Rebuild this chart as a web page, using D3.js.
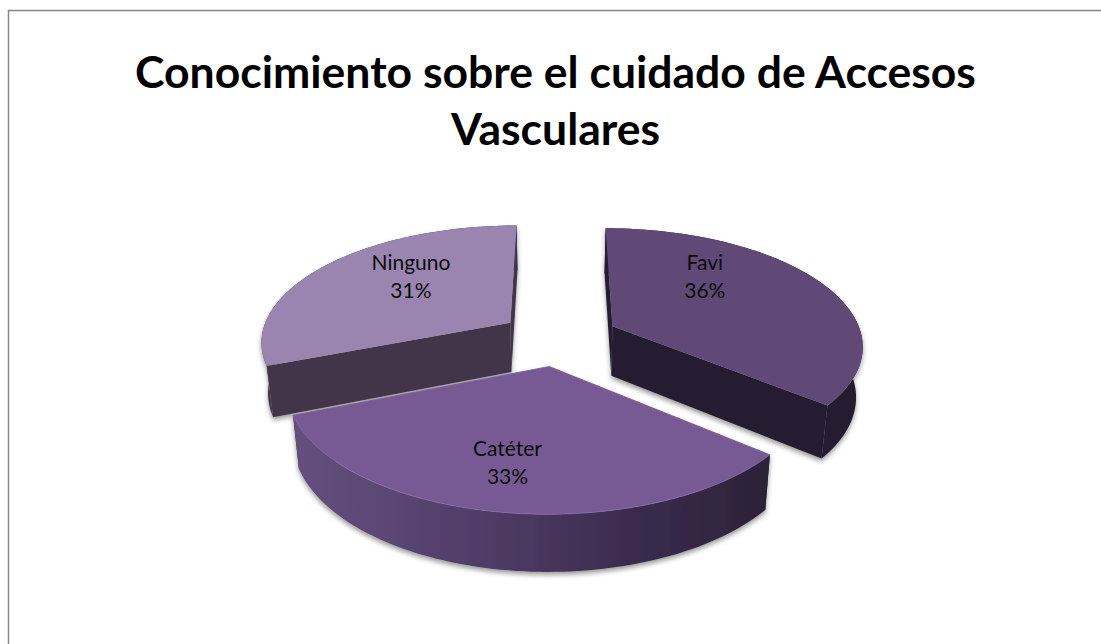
<!DOCTYPE html>
<html><head><meta charset="utf-8">
<script src="https://d3js.org/d3.v7.min.js"></script>
<style>html,body{margin:0;padding:0;background:#fff}svg{display:block}</style>
</head><body><svg id="c" width="1101" height="644"></svg>
<script>
const categories = ["Favi", "Catéter", "Ninguno"];
const values = [36, 33, 31];
const titleLines = ["Conocimiento sobre el cuidado de Accesos", "Vasculares"];
const topColors = ["#614a77", "#775a93", "#9a85b0"];
const wallColors = ["#271e33", "#2e2339", "#42364a"];
const labelNudges = [[-14,-26],[-19,30],[-4,-16]];

const W=1101,H=644, cx=559, cy=338, depth=50, persp=0.15, explode=0.24;
const sx=d3.scaleLinear().domain([0,1]).range([0,250]);
const sy=d3.scaleLinear().domain([0,1]).range([0,116]);
const project=(u,v,z=0)=>{const w=1/(1-persp*v);return [cx+sx(u)*w*(1-0.022*z), cy+sy(v)*w+z*depth*Math.pow(w,0.7)];};
const svg=d3.select("#c");
const defs=svg.append("defs");
const f=defs.append("filter").attr("id","sh").attr("x","-10%").attr("y","-10%").attr("width","120%").attr("height","125%");
f.append("feGaussianBlur").attr("in","SourceAlpha").attr("stdDeviation",2.5).attr("result","b");
f.append("feOffset").attr("in","b").attr("dx",0).attr("dy",3).attr("result","o");
f.append("feComponentTransfer").attr("in","o").attr("result","t").append("feFuncA").attr("type","linear").attr("slope",0.4);
const fm=f.append("feMerge");fm.append("feMergeNode").attr("in","t");fm.append("feMergeNode").attr("in","SourceGraphic");
const g=defs.append("linearGradient").attr("id","outer").attr("gradientUnits","userSpaceOnUse").attr("x1",293).attr("x2",768).attr("y1",0).attr("y2",0);
[[0,"#64507e"],[0.4,"#4f3d67"],[0.7,"#3b2c4e"],[1,"#2c2238"]].forEach(s=>g.append("stop").attr("offset",s[0]).attr("stop-color",s[1]));

svg.append("path").attr("d","M8.5,644V10.5H1101").attr("fill","none").attr("stroke","#868686").attr("stroke-width",1.5);
const title=svg.append("text").attr("text-anchor","middle").attr("font-family","Lato, 'Open Sans', sans-serif").attr("font-weight",700).attr("font-size",44.5).attr("fill","#000");
titleLines.forEach((t,i)=>title.append("tspan").attr("x",555.5).attr("y",88+i*57).text(t));

const arcs=d3.pie().sort(null).value(d=>d)(values);
const line=d3.line();
const range=(a,b,n=80)=>d3.range(n+1).map(i=>a+(b-a)*i/n);
const order=[2,0,1];
order.forEach(i=>{
  const a=arcs[i], mid=(a.startAngle+a.endAngle)/2;
  const ax=explode*Math.sin(mid), ay=-explode*Math.cos(mid);
  const pt=(t,z=0)=>project(ax+Math.sin(t),ay-Math.cos(t),z);
  const ap=(z=0)=>project(ax,ay,z);
  const s=svg.append("g").attr("filter","url(#sh)");
  const wall=d=>line(d)+"Z";
  s.append("path").attr("d",wall([ap(),pt(a.startAngle),pt(a.startAngle,1),ap(1)])).attr("fill",wallColors[i]);
  s.append("path").attr("d",wall([ap(),pt(a.endAngle),pt(a.endAngle,1),ap(1)])).attr("fill",wallColors[i]);
  const ts=range(a.startAngle,a.endAngle);
  s.append("path").attr("d",wall(ts.map(t=>pt(t)).concat(ts.slice().reverse().map(t=>pt(t,1))))).attr("fill",i===1?"url(#outer)":wallColors[i]);
  s.append("path").attr("d",wall([ap()].concat(ts.map(t=>pt(t))))).attr("fill",topColors[i]).attr("stroke",i===1?"#8a70a8":"none").attr("stroke-width",i===1?0.8:0);
});
arcs.forEach((a,i)=>{
  const mid=(a.startAngle+a.endAngle)/2;
  const ax=explode*Math.sin(mid), ay=-explode*Math.cos(mid);
  const p=project(ax+0.5*Math.sin(mid),ay-0.5*Math.cos(mid));
  const t=svg.append("text").attr("text-anchor","middle").attr("font-family","Lato, 'Open Sans', sans-serif").attr("font-size",21).attr("fill","#0a0a0a");
  const x=p[0]+labelNudges[i][0], y=p[1]+labelNudges[i][1];
  t.append("tspan").attr("x",x).attr("y",y-7).text(categories[i]);
  t.append("tspan").attr("x",x).attr("y",y+21).text(values[i]+"%");
});
</script></body></html>
